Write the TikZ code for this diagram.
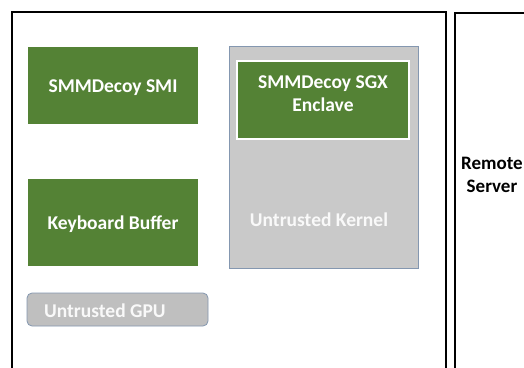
\documentclass[tikz,border=0pt]{standalone}
\usepackage{fontspec}
\setmainfont{Carlito}
\usepackage{xcolor}
\usetikzlibrary{positioning}

\definecolor{boxgreen}{HTML}{548235}
\definecolor{kernelgray}{HTML}{C9C9C9}
\definecolor{gpugray}{HTML}{BFBFBF}
\definecolor{edgeblue}{HTML}{8497B0}

\tikzset{
    greenbox/.style={fill=boxgreen, text=white, font=\fontsize{19.5}{23}\selectfont\bfseries, align=center, inner sep=0pt},
    graybox/.style={fill=kernelgray, draw=edgeblue, line width=0.8pt, inner sep=0pt},
    hostbox/.style={draw=black, line width=2pt}
}

\begin{document}
\begin{tikzpicture}[x=1pt,y=-1pt]
    % 画布范围
    \clip (0,0) rectangle (524,367);
    \fill[white] (0,0) rectangle (524,367);

    % 本地主机和远程服务器
    \draw[hostbox] (12,12) rectangle (446,380);
    \draw[hostbox] (455,13) rectangle (540,380);
    \node[font=\fontsize{19}{23}\selectfont\bfseries, align=center] (remote) at (492,175) {Remote\\Server};

    % 左侧绿色模块
    \node[greenbox, minimum width=170pt, minimum height=77pt] (smi) at (113,85.5) {};
    \node[font=\fontsize{19.5}{23}\selectfont\bfseries, text=white] (smitxt) at (113,87.5) {SMMDecoy SMI};
    \node[greenbox, minimum width=170pt, minimum height=87pt] (kbd) at (113,222.5) {};
    \node[font=\fontsize{19.5}{23}\selectfont\bfseries, text=white] (kbdtxt) at (113,224) {Keyboard Buffer};

    % 不可信内核及其中的 enclave
    \node[graybox, minimum width=189pt, minimum height=222pt] (kernel) at (323.5,157) {};
    \node[greenbox, draw=white, line width=1.5pt, minimum width=172pt, minimum height=78pt] (enclave) at (323,100) {};
    \node[font=\fontsize{19.5}{23}\selectfont\bfseries, text=white, align=center] (enclavetxt) at (323,94) {SMMDecoy SGX\\Enclave};
    \node[font=\fontsize{19.5}{23}\selectfont\bfseries, text=white!95!gray] (kerneltxt) at (319,220) {Untrusted Kernel};

    % 不可信 GPU
    \node[draw=edgeblue, fill=gpugray, line width=0.8pt, rounded corners=5pt, minimum width=181pt, minimum height=33pt] (gpu) at (117.5,309.5) {};
    \node[font=\fontsize{19.5}{23}\selectfont\bfseries, text=white!95!gray, anchor=west, inner sep=0pt] (gputxt) at (44,311) {Untrusted GPU};

\end{tikzpicture}
\end{document}
